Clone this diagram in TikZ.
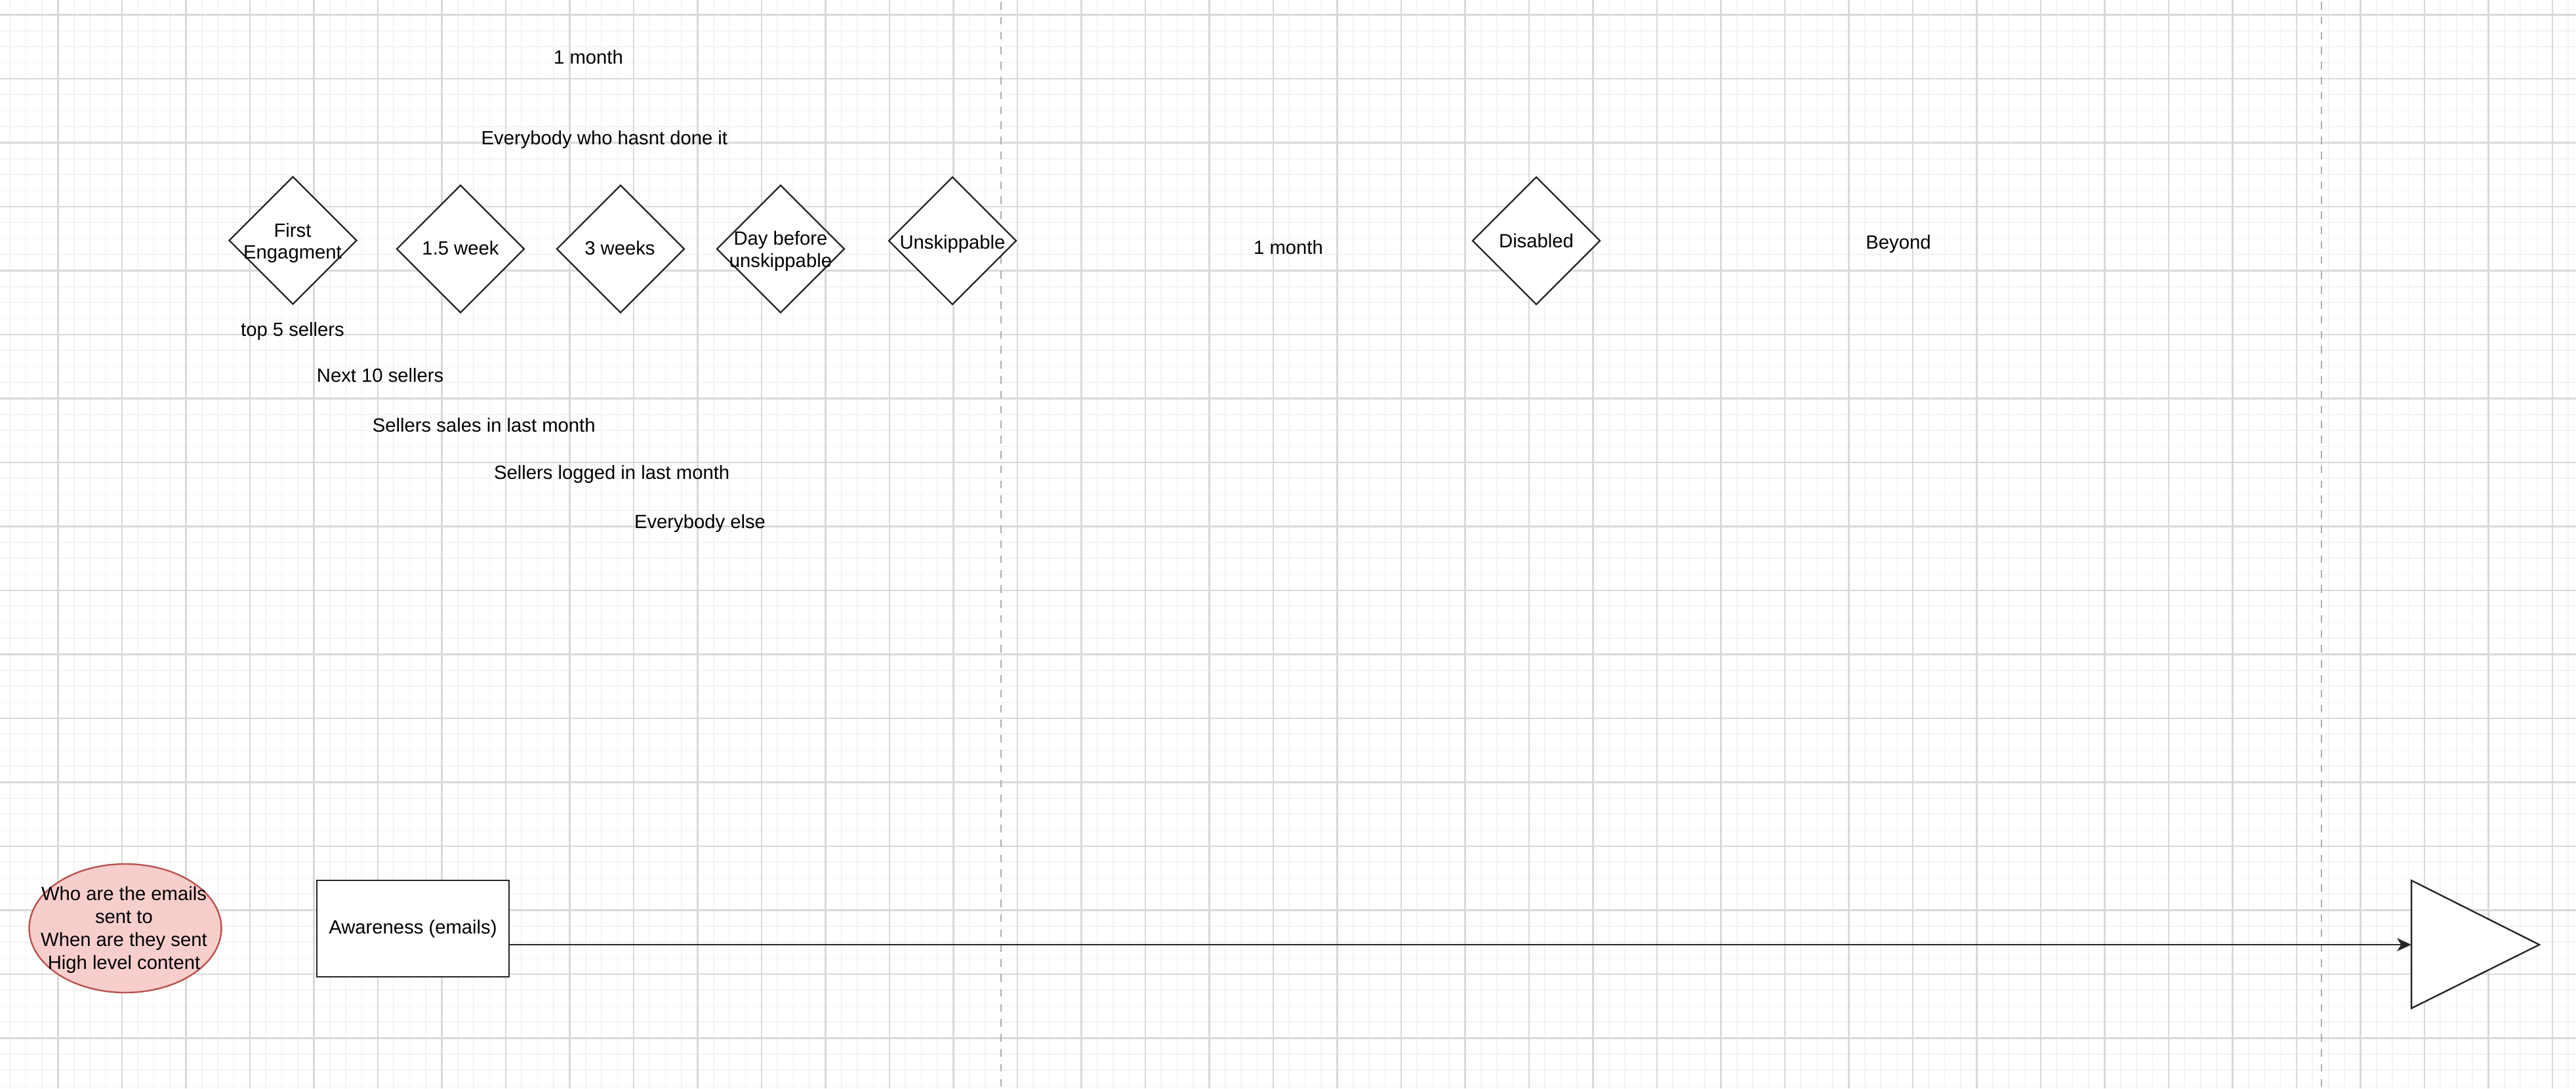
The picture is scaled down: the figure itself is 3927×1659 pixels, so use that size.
\documentclass[tikz,border=0pt]{standalone}
\usepackage{fontspec}
\setmainfont{Liberation Sans}
\usetikzlibrary{shapes.geometric,arrows.meta}
\definecolor{gridminor}{HTML}{F3F3F3}
\definecolor{gridmajor}{HTML}{D9D9D9}
\definecolor{dashgray}{HTML}{ADADAD}
\definecolor{pinkfill}{HTML}{F8CECC}
\definecolor{pinkdraw}{HTML}{B85450}
\tikzset{
  minorline/.style={draw=gridminor, line width=0.45pt},
  majorline/.style={draw=gridmajor, line width=0.6pt},
  sepline/.style={draw=dashgray, line width=0.6pt, dash pattern=on 2.9pt off 2.8pt},
  diabox/.style={shape=diamond, draw=black!85, line width=0.6pt, fill=white, inner sep=0pt,
    minimum width=48.75pt, minimum height=48.75pt},
  lbl/.style={inner sep=0pt, anchor=base},
  mlbl/.style={inner sep=0pt, anchor=center, align=center},
  conn/.style={draw=black!85, line width=0.6pt, -{Stealth[length=5.5pt,width=5pt,inset=1.6pt]}},
}
\begin{document}
\begin{tikzpicture}[x=0.25pt, y=-0.25pt, font=\fontsize{7.31pt}{8.4pt}\selectfont]
\useasboundingbox (0,0) rectangle (3927,1659);
\fill[white] (0,0) rectangle (3927,1659);
\begin{scope}
\clip (0,0) rectangle (3927,1659);
\foreach \i in {0,...,162} {\draw[minorline] ({-9.2+24.375*\i},0) -- ++(0,1659);}
\foreach \i in {0,...,68} {\draw[minorline] (0,{-2.1+24.375*\i}) -- ++(3927,0);}
\foreach \i in {0,...,40} {\draw[majorline] ({-9.2+97.5*\i},0) -- ++(0,1659);}
\foreach \i in {0,...,16} {\draw[majorline] (0,{22.3+97.5*\i}) -- ++(3927,0);}
\end{scope}
% dashed separators
\draw[sepline] (1525.7,3) -- (1525.7,1659);
\draw[sepline] (3539,3) -- (3539,1659);

% diamonds
\node[diabox] (fe) at (446.5,366.5) {};
\node[diabox] (w15) at (702,379.5) {};
\node[diabox] (w3) at (946,379.5) {};
\node[diabox] (db) at (1190,379.5) {};
\node[diabox] (un) at (1452,367) {};
\node[diabox] (dis) at (2342,367) {};

\node[mlbl] (fet) at (446,370.3) {First\\Engagment};
\node[lbl] (w15t) at (702,388.3) {1.5 week};
\node[lbl] (w3t) at (945,388.3) {3 weeks};
\node[mlbl] (dbt) at (1190,382.9) {Day before\\unskippable};
\node[lbl] (unt) at (1452,379.5) {Unskippable};
\node[lbl] (dist) at (2342,377.5) {Disabled};

% free labels
\node[lbl] (m1) at (897,97.2) {1 month};
\node[lbl] (ev) at (921.4,220.3) {Everybody who hasnt done it};
\node[lbl] (t5) at (446,512) {top 5 sellers};
\node[lbl] (n10) at (579.6,582.5) {Next 10 sellers};
\node[lbl] (ssl) at (737.8,658.3) {Sellers sales in last month};
\node[lbl] (sll) at (932.7,730.5) {Sellers logged in last month};
\node[lbl] (eve) at (1067,805.5) {Everybody else};
\node[lbl] (m2) at (1964,387.5) {1 month};
\node[lbl] (bey) at (2894,379.5) {Beyond};

% bottom row
\node[shape=ellipse, draw=pinkdraw, fill=pinkfill, line width=0.6pt, inner sep=0pt,
  minimum width=73.25pt, minimum height=49pt] (who) at (191,1415) {};
\node[mlbl, font=\fontsize{7.31pt}{8.75pt}\selectfont] (whot) at (189,1417.5)
  {Who are the emails\\sent to\\When are they sent\\High level content};
\node[draw=black!85, fill=white, line width=0.7pt, inner sep=0pt,
  minimum width=73.25pt, minimum height=36.75pt] (aw) at (629.5,1415.5) {Awareness (emails)};
\draw[draw=black!85, fill=white, line width=0.6pt] (3676,1342) -- (3871,1440) -- (3676,1537) -- cycle;
\coordinate (tri) at (3676,1440);
\draw[conn] (aw.east |- tri) -- (tri);
\end{tikzpicture}
\end{document}
